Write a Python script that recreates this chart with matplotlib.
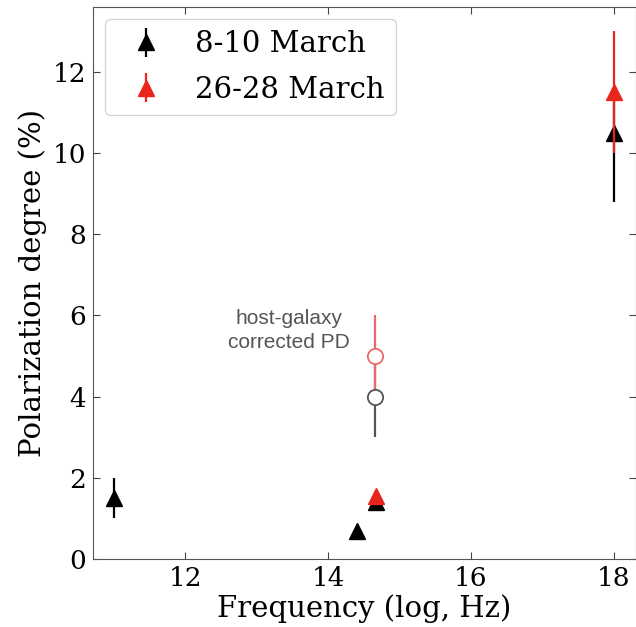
import matplotlib
matplotlib.use("Agg")
import matplotlib.pyplot as plt

# Data (log frequency, polarization degree %, lower err, upper err)
mar8_x = [11.0, 14.4, 14.67, 18.0]
mar8_y = [1.5, 0.7, 1.4, 10.5]
mar8_elo = [0.5, 0.05, 0.15, 1.7]
mar8_ehi = [0.5, 0.05, 0.1, 1.0]

mar26_x = [14.67, 18.0]
mar26_y = [1.55, 11.5]
mar26_elo = [0.1, 1.5]
mar26_ehi = [0.1, 1.5]

corr_x = [14.66]
corr8_y = [4.0]
corr8_err = [1.0]
corr26_y = [5.0]
corr26_err = [1.0]

labels = ["8-10 March", "26-28 March"]
annot = "host-galaxy\ncorrected PD"

plt.rcParams['font.family'] = 'DejaVu Serif'
fig = plt.figure(figsize=(6.36, 6.27), dpi=100)
ax = fig.add_axes([93/636, (627-559)/627, (636-93)/636, (559-7)/627])

red = '#e8261c'
ax.errorbar(corr_x, corr8_y, yerr=corr8_err, fmt='o', mfc='white', mec='#555555',
            ecolor='#555555', ms=11, mew=1.3, elinewidth=1.6, zorder=2)
ax.errorbar(corr_x, corr26_y, yerr=corr26_err, fmt='o', mfc='white', mec='#e86a6a',
            ecolor='#e86a6a', ms=11, mew=1.3, elinewidth=1.6, zorder=2)

ax.errorbar(mar8_x, mar8_y, yerr=[mar8_elo, mar8_ehi], fmt='^', color='black',
            ms=11, elinewidth=1.6, label=labels[0], zorder=3)
ax.errorbar(mar26_x, mar26_y, yerr=[mar26_elo, mar26_ehi], fmt='^', color=red,
            ms=11, elinewidth=1.6, label=labels[1], zorder=4)

ax.text(14.67 - 1.22, 5.63, annot, ha='center', va='center', fontsize=15,
        color='#555555', family='Liberation Sans', linespacing=1.3)

ax.set_xlim(10.71, 18.31)
ax.set_ylim(0, 13.6)
ax.set_xticks([12, 14, 16, 18])
ax.set_yticks([0, 2, 4, 6, 8, 10, 12])
ax.tick_params(direction='in', top=True, right=True, labelsize=19, length=5,
               color='#444444', pad=5)
for s in ax.spines.values():
    s.set_color('#555555')
ax.set_xlabel('Frequency (log, Hz)', fontsize=21, labelpad=2)
ax.set_ylabel('Polarization degree (%)', fontsize=21, labelpad=4)

leg = ax.legend(loc='upper left', fontsize=21, frameon=True,
                fancybox=True, edgecolor='#cccccc', borderpad=0.4,
                handletextpad=0.7, labelspacing=0.6, borderaxespad=0.4,
                bbox_to_anchor=(0.0, 1.0))

fig.savefig('out.png', dpi=100)
